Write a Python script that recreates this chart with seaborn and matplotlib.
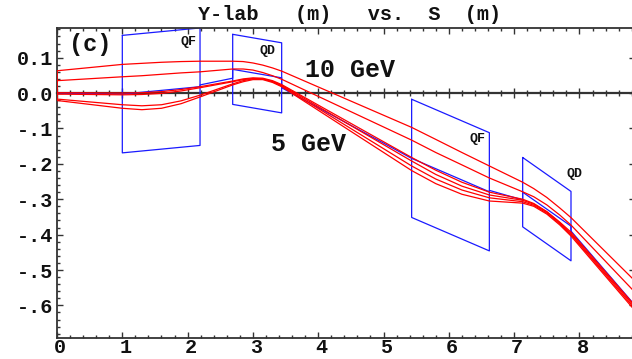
import matplotlib
matplotlib.use("Agg")
import matplotlib.pyplot as plt
from matplotlib.ticker import MultipleLocator, FixedLocator
from matplotlib.transforms import ScaledTranslation
import pandas as pd
import seaborn as sns

# Beam-line position (m) at which every trajectory is sampled
S_POS = [0.0, 1.0, 1.3, 1.6, 1.9, 2.19, 2.69, 2.85, 3.0, 3.15, 3.3, 3.44,
         5.43, 5.8, 6.2, 6.62, 7.13, 7.3, 7.5, 7.7, 7.87, 8.85]

# Vertical lab position (m) of the tracked rays
TRAJ_A = [0.063, 0.081, 0.084, 0.087, 0.089, 0.090, 0.090, 0.089, 0.085, 0.079, 0.071, 0.062,
          -0.097, -0.131, -0.168, -0.206, -0.252, -0.270, -0.295, -0.325, -0.352, -0.531]
TRAJ_B = [0.035, 0.046, 0.049, 0.053, 0.057, 0.060, 0.068, 0.068, 0.065, 0.058, 0.049, 0.039,
          -0.133, -0.168, -0.203, -0.240, -0.279, -0.293, -0.316, -0.345, -0.373, -0.563]
TRAJ_C = [0.001, 0.000, 0.001, 0.004, 0.010, 0.018, 0.034, 0.040, 0.043, 0.042, 0.035, 0.024,
          -0.182, -0.218, -0.252, -0.280, -0.300, -0.312, -0.335, -0.365, -0.393, -0.601]
TRAJ_D = [-0.003, -0.005, -0.004, -0.001, 0.006, 0.015, 0.032, 0.038, 0.041, 0.040, 0.033, 0.022,
          -0.192, -0.230, -0.263, -0.288, -0.303, -0.314, -0.336, -0.367, -0.397, -0.605]
TRAJ_E = [-0.017, -0.033, -0.036, -0.033, -0.022, -0.006, 0.026, 0.035, 0.040, 0.040, 0.032, 0.020,
          -0.206, -0.243, -0.274, -0.296, -0.307, -0.317, -0.339, -0.370, -0.400, -0.610]
TRAJ_F = [-0.021, -0.043, -0.047, -0.043, -0.030, -0.011, 0.023, 0.032, 0.038, 0.038, 0.030, 0.018,
          -0.219, -0.256, -0.286, -0.305, -0.311, -0.320, -0.342, -0.373, -0.404, -0.615]
TRAJECTORIES = {"a": TRAJ_A, "b": TRAJ_B, "c": TRAJ_C,
                "d": TRAJ_D, "e": TRAJ_E, "f": TRAJ_F}

# Reference orbit (magnet axes joined through the drifts)
ORBIT_S = [0.0, 1.0, 2.19, 2.19, 2.69, 2.69, 3.44, 3.44, 5.43, 6.62, 6.62,
           7.13, 7.13, 7.87, 7.87, 8.85]
ORBIT_Y = [0.0, -0.003, 0.018, 0.023, 0.042, 0.067, 0.043, 0.015, -0.1845, -0.279, -0.275,
           -0.302, -0.280, -0.376, -0.390, -0.600]

# Quadrupoles: entrance/exit position, axis height and half aperture
MAG_NAMES = ["QF", "QD", "QF", "QD"]
MAG_S_IN = [1.0, 2.69, 5.43, 7.13]
MAG_S_OUT = [2.19, 3.44, 6.62, 7.87]
MAG_Y_IN = [-0.003, 0.067, -0.1845, -0.280]
MAG_Y_OUT = [0.018, 0.043, -0.279, -0.376]
MAG_HALF = [0.166, 0.099, 0.167, 0.098]
MAG_LABEL_S = [2.02, 3.23, 6.44, 7.92]
MAG_LABEL_Y = [0.144, 0.118, -0.131, -0.228]

X_TICKS = [0, 1, 2, 3, 4, 5, 6, 7, 8]
X_TICK_LABELS = ["0", "1", "2", "3", "4", "5", "6", "7", "8"]
Y_TICKS = [0.1, 0.0, -0.1, -0.2, -0.3, -0.4, -0.5, -0.6]
Y_TICK_LABELS = ["0.1", "0.0", "-.1", "-.2", "-.3", "-.4", "-.5", "-.6"]

TITLE = "Y-lab   (m)   vs.  S  (m)"

RED = "#ff0000"
BLUE = "#1a1aff"
INK = "#333333"

sns.set_theme(style="ticks")
plt.rcParams["font.family"] = ["Liberation Mono", "DejaVu Sans Mono"]
plt.rcParams["font.weight"] = "bold"

W, H = 632, 359
fig = plt.figure(figsize=(W / 100, H / 100), dpi=100)
fig.patch.set_facecolor("white")
ax = fig.add_axes([57 / W, (H - 338.3) / H, (635 - 57) / W, (338.3 - 28.3) / H])
ax.set_facecolor("white")

# tracked rays
rows = [(name, s, y) for name, ys in TRAJECTORIES.items() for s, y in zip(S_POS, ys)]
traj = pd.DataFrame(rows, columns=["track", "s", "y"])
sns.lineplot(data=traj, x="s", y="y", units="track", estimator=None, sort=False,
             color=RED, linewidth=0.9, ax=ax, zorder=3)
starts = [ys[0] for ys in TRAJECTORIES.values()]
ax.vlines(S_POS[0], min(starts), max(starts), color=RED, linewidth=1.2, zorder=3)

# magnet outlines
box_rows = []
for i, name in enumerate(MAG_NAMES):
    s0, s1, y0, y1, h = MAG_S_IN[i], MAG_S_OUT[i], MAG_Y_IN[i], MAG_Y_OUT[i], MAG_HALF[i]
    corners = [(s0, y0 + h), (s1, y1 + h), (s1, y1 - h), (s0, y0 - h), (s0, y0 + h)]
    for k, (s, y) in enumerate(corners):
        box_rows.append((f"{name}{i}", k, s, y))
boxes = pd.DataFrame(box_rows, columns=["magnet", "k", "s", "y"])
sns.lineplot(data=boxes, x="s", y="y", units="magnet", estimator=None, sort=False,
             color=BLUE, linewidth=0.9, ax=ax, zorder=2)

# reference orbit
orbit = pd.DataFrame({"s": ORBIT_S, "y": ORBIT_Y})
sns.lineplot(data=orbit, x="s", y="y", estimator=None, sort=False,
             color=BLUE, linewidth=0.9, ax=ax, zorder=2)

for name, s, y in zip(MAG_NAMES, MAG_LABEL_S, MAG_LABEL_Y):
    ax.text(s, y, name, ha="center", va="center", fontsize=9.5, weight="bold", color="#111111")

ax.text(3.8, 0.045, "10 GeV", ha="left", va="baseline", fontsize=18, weight="bold", color="#111111")
ax.text(3.28, -0.164, "5 GeV", ha="left", va="baseline", fontsize=18, weight="bold", color="#111111")
ax.text(0.18, 0.138, "(c)", ha="left", va="center", fontsize=17, weight="bold", color="#111111")

ax.set_xlim(0, 8.85)
ax.set_ylim(-0.693, 0.183)
ax.set_xlabel("")
ax.set_ylabel("")

ax.xaxis.set_major_locator(FixedLocator(X_TICKS))
ax.set_xticklabels(X_TICK_LABELS)
ax.yaxis.set_major_locator(FixedLocator(Y_TICKS))
ax.set_yticklabels(Y_TICK_LABELS)
ax.xaxis.set_minor_locator(MultipleLocator(0.2))
ax.yaxis.set_minor_locator(MultipleLocator(0.02))

for side in ["left", "right", "top", "bottom"]:
    ax.spines[side].set_visible(True)
    ax.spines[side].set_color(INK)
    ax.spines[side].set_linewidth(1.3)

ax.tick_params(which="both", direction="in", top=True, right=True, color=INK, width=1.0)
ax.tick_params(which="major", length=4.5, labelsize=14.5, labelcolor="#111111")
ax.tick_params(which="minor", length=2.3)
ax.tick_params(axis="y", which="major", pad=3)
ax.tick_params(axis="x", which="major", pad=0)
shift = ScaledTranslation(3 / 100, 0, fig.dpi_scale_trans)
for lab in ax.get_xticklabels():
    lab.set_transform(lab.get_transform() + shift)

# zero line carrying its own tick marks
zero_axis = ax.secondary_xaxis(0, transform=ax.transData)
zero_axis.xaxis.set_major_locator(FixedLocator(X_TICKS))
zero_axis.xaxis.set_minor_locator(MultipleLocator(0.2))
zero_axis.tick_params(which="both", direction="inout", labelbottom=False, labeltop=False,
                      color=INK, width=1.0)
zero_axis.tick_params(which="major", length=6.5)
zero_axis.tick_params(which="minor", length=4)
for sp in zero_axis.spines.values():
    sp.set_color(INK)
    sp.set_linewidth(1.6)

fig.text(198 / W, 1 - 15 / H, TITLE, ha="left", va="center", fontsize=14.5,
         weight="bold", color="#111111")

fig.savefig("out.png", dpi=100, facecolor="white")
